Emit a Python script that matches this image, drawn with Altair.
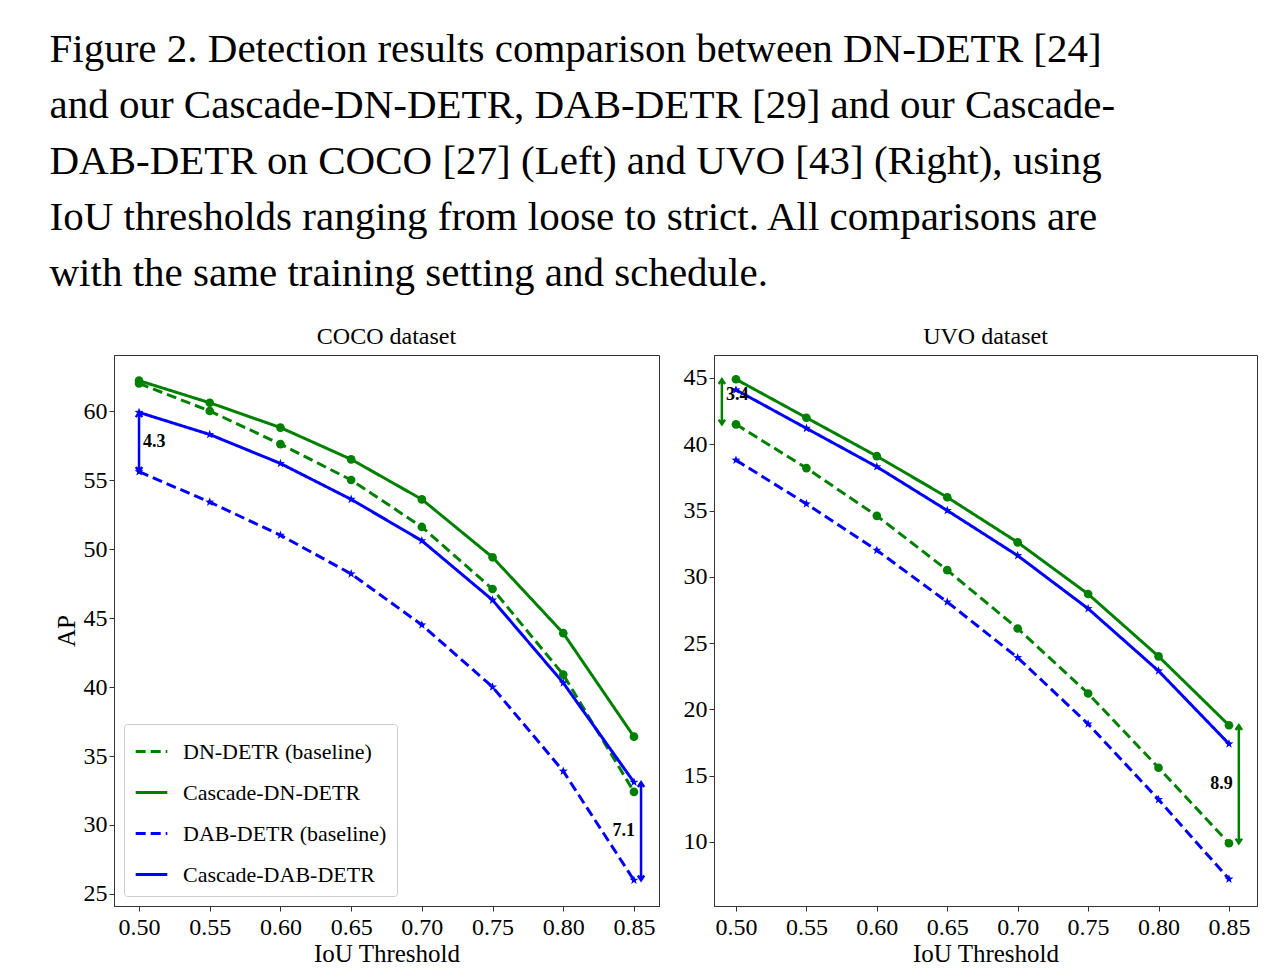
import altair as alt
import pandas as pd

IOU = [0.50, 0.55, 0.60, 0.65, 0.70, 0.75, 0.80, 0.85]
SERIES = ["DN-DETR (baseline)", "Cascade-DN-DETR", "DAB-DETR (baseline)", "Cascade-DAB-DETR"]
COLORS = ["#008000", "#008000", "#0000ff", "#0000ff"]

COCO_DN = [62.0, 60.0, 57.6, 55.0, 51.6, 47.1, 40.9, 32.4]
COCO_CDN = [62.2, 60.6, 58.8, 56.5, 53.6, 49.4, 43.9, 36.4]
COCO_DAB = [55.6, 53.4, 51.0, 48.2, 44.5, 40.0, 33.9, 26.0]
COCO_CDAB = [59.9, 58.3, 56.2, 53.6, 50.6, 46.3, 40.3, 33.1]

UVO_DN = [41.5, 38.2, 34.6, 30.5, 26.1, 21.2, 15.6, 9.9]
UVO_CDN = [44.9, 42.0, 39.1, 36.0, 32.6, 28.7, 24.0, 18.8]
UVO_DAB = [38.8, 35.5, 32.0, 28.1, 23.9, 18.9, 13.2, 7.2]
UVO_CDAB = [44.1, 41.2, 38.3, 35.0, 31.6, 27.6, 22.9, 17.4]

# arrows: x, y low, y high, label, colour
COCO_ARROWS = [(0.50, 55.6, 59.9, "4.3", "#0000ff"), (0.855, 26.0, 33.1, "7.1", "#0000ff")]
UVO_ARROWS = [(0.49, 41.5, 44.9, "3.4", "#008000"), (0.857, 9.9, 18.8, "8.9", "#008000")]

CAPTION = [
    "Figure 2. Detection results comparison between DN-DETR [24]",
    "and our Cascade-DN-DETR, DAB-DETR [29] and our Cascade-",
    "DAB-DETR on COCO [27] (Left) and UVO [43] (Right), using",
    "IoU thresholds ranging from loose to strict.  All comparisons are",
    "with the same training setting and schedule.",
]

FONT = "Liberation Serif"
STAR = "M0,-1L0.24,-0.33L0.95,-0.31L0.38,0.12L0.59,0.81L0,0.4L-0.59,0.81L-0.38,0.12L-0.95,-0.31L-0.24,-0.33Z"
UP = "M-0.6,0.9L0,0L0.6,0.9"
DOWN = "M-0.6,-0.9L0,0L0.6,-0.9"


def panel(values, arrows, title, xdom, ydom, yticks, width, show_legend, ytitle):
    rows = []
    for name, vals in zip(SERIES, values):
        for x, v in zip(IOU, vals):
            rows.append({"iou": x, "ap": v, "series": name})
    df = pd.DataFrame(rows)
    xs = alt.Scale(domain=xdom, nice=False, zero=False)
    ys = alt.Scale(domain=ydom, nice=False, zero=False)
    color = alt.Color("series:N", scale=alt.Scale(domain=SERIES, range=COLORS),
                      legend=alt.Legend(orient="bottom-left", title=None, symbolType="stroke",
                                        symbolStrokeWidth=3, symbolSize=1000, labelFont=FONT,
                                        labelFontSize=22, labelLimit=0, fillColor="white",
                                        strokeColor="#cccccc", padding=10, rowPadding=12,
                                        cornerRadius=3, offset=10, labelOffset=14)
                      if show_legend else None)
    dash = alt.StrokeDash("series:N", scale=alt.Scale(domain=SERIES, range=[[10, 5], [1, 0], [10, 5], [1, 0]]),
                          legend=None)
    base = alt.Chart(df).encode(
        x=alt.X("iou:Q", scale=xs, axis=alt.Axis(values=IOU, format=".2f", title="IoU Threshold",
                                                 grid=False, tickSize=5, labelPadding=4, titlePadding=2)),
        y=alt.Y("ap:Q", scale=ys, axis=alt.Axis(values=yticks, title=ytitle, grid=False, tickSize=5)),
    )
    lines = base.mark_line(strokeWidth=3).encode(color=color, strokeDash=dash)
    dots = base.transform_filter(alt.FieldOneOfPredicate(field="series", oneOf=SERIES[:2])).mark_point(
        shape="circle", filled=True, size=75, opacity=1).encode(
        color=alt.Color("series:N", scale=alt.Scale(domain=SERIES, range=COLORS), legend=None))
    stars = base.transform_filter(alt.FieldOneOfPredicate(field="series", oneOf=SERIES[2:])).mark_point(
        shape=STAR, filled=True, size=90, opacity=1).encode(
        color=alt.Color("series:N", scale=alt.Scale(domain=SERIES, range=COLORS), legend=None))
    layers = [lines, dots, stars]
    for x, lo, hi, lab, col in arrows:
        a = pd.DataFrame({"x": [x], "lo": [lo], "hi": [hi], "mid": [(lo + hi) / 2], "lab": [lab]})
        ab = alt.Chart(a)
        layers.append(ab.mark_rule(color=col, strokeWidth=2.5).encode(
            x=alt.X("x:Q", scale=xs), y=alt.Y("lo:Q", scale=ys), y2="hi:Q"))
        layers.append(ab.mark_point(shape=UP, color=col, strokeWidth=2.5, size=110, opacity=1).encode(
            x=alt.X("x:Q", scale=xs), y=alt.Y("hi:Q", scale=ys)))
        layers.append(ab.mark_point(shape=DOWN, color=col, strokeWidth=2.5, size=110, opacity=1).encode(
            x=alt.X("x:Q", scale=xs), y=alt.Y("lo:Q", scale=ys)))
        right = x < 0.6
        layers.append(ab.mark_text(font=FONT, fontSize=18, fontWeight="bold", color="black",
                                   align="left" if right else "right", dx=4 if right else -6,
                                   dy=-7 if lab == "3.4" else 0).encode(
            x=alt.X("x:Q", scale=xs), y=alt.Y("mid:Q", scale=ys), text="lab:N"))
    return alt.layer(*layers).properties(
        width=width, height=551,
        title=alt.TitleParams(title, font=FONT, fontSize=24, fontWeight="normal", offset=6))


left = panel([COCO_DN, COCO_CDN, COCO_DAB, COCO_CDAB], COCO_ARROWS, "COCO dataset",
             [0.4823, 0.8677], [24.13, 64.06], [25, 30, 35, 40, 45, 50, 55, 60], 545, True, "AP")
right = panel([UVO_DN, UVO_CDN, UVO_DAB, UVO_CDAB], UVO_ARROWS, "UVO dataset",
              [0.4844, 0.8699], [5.17, 46.73], [10, 15, 20, 25, 30, 35, 40, 45], 543, False, None)

chart = alt.hconcat(left, right, spacing=22).resolve_scale(color="independent", strokeDash="independent").properties(
    title=alt.TitleParams(CAPTION, anchor="start", font=FONT, fontSize=41, fontWeight="normal",
                          lineHeight=56, offset=30, dx=-4),
    padding={"left": 41, "top": 20, "right": 5, "bottom": 5},
).configure_axis(
    labelFont=FONT, titleFont=FONT, labelFontSize=24, titleFontSize=25, titleFontWeight="normal",
    labelColor="black", titleColor="black", domainColor="#333333", tickColor="#333333",
).configure_view(stroke="#333333", strokeWidth=1)

chart.save("out.html", embed_options={"renderer": "svg", "actions": False})
